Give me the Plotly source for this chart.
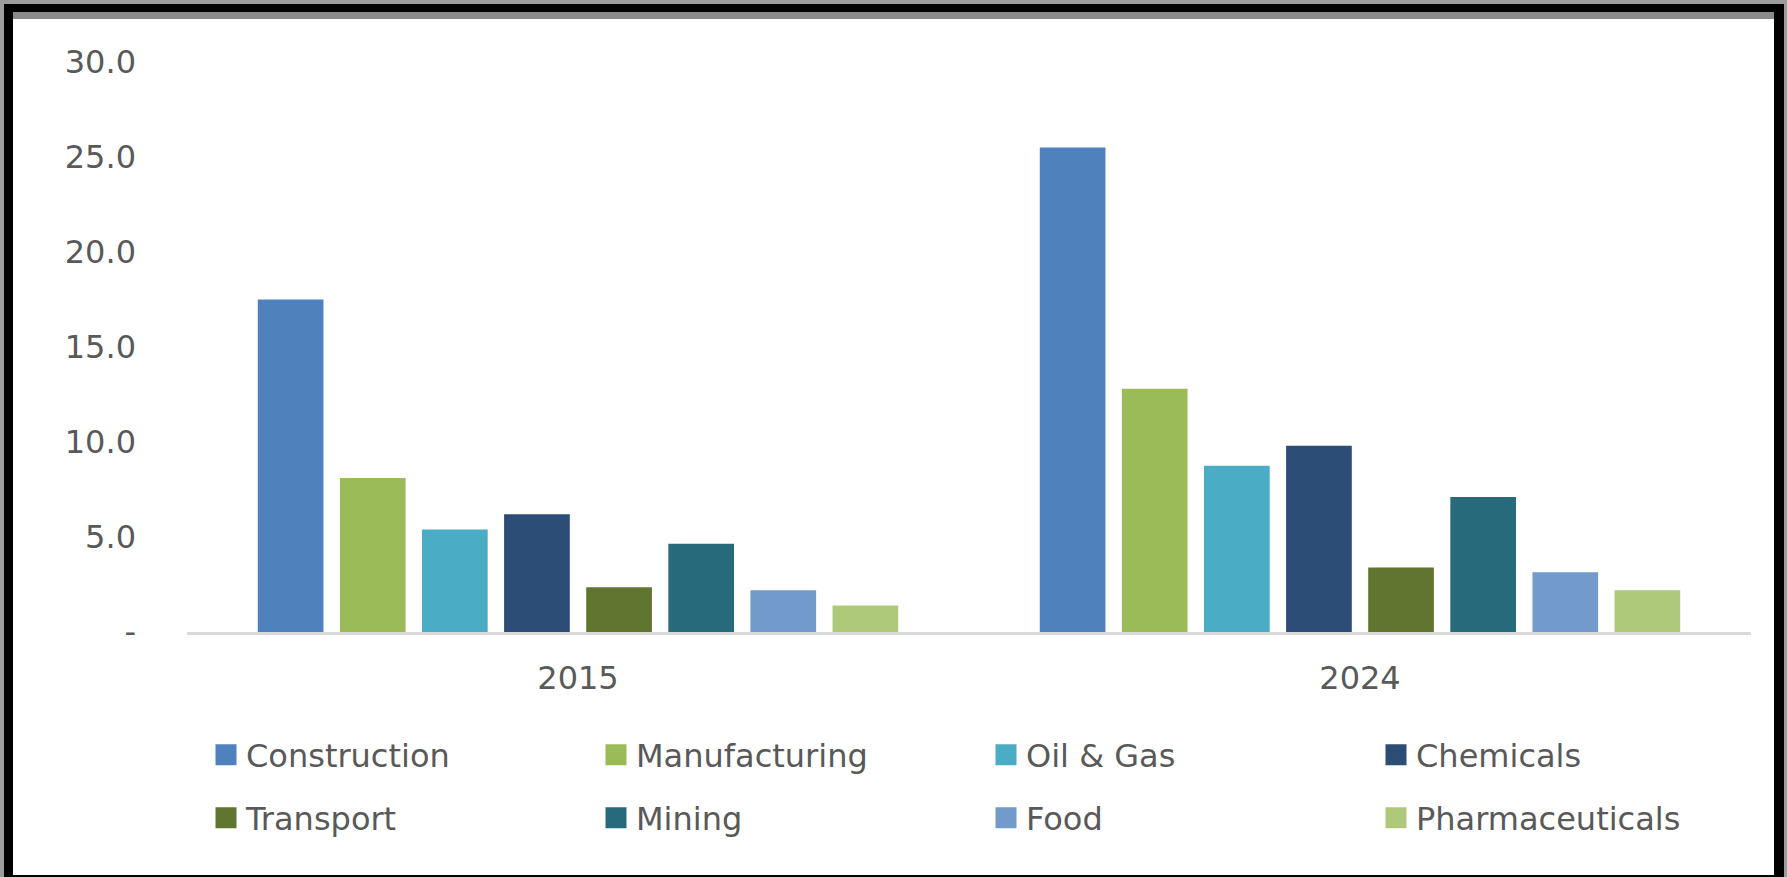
import plotly.graph_objects as go

# ---- data ----
years = ["2015", "2024"]
sectors = ["Construction", "Manufacturing", "Oil & Gas", "Chemicals",
           "Transport", "Mining", "Food", "Pharmaceuticals"]
construction = [17.5, 25.5]
manufacturing = [8.1, 12.8]
oil_gas = [5.4, 8.75]
chemicals = [6.2, 9.8]
transport = [2.35, 3.4]
mining = [4.65, 7.1]
food = [2.2, 3.15]
pharmaceuticals = [1.4, 2.2]
series_values = [construction, manufacturing, oil_gas, chemicals,
                 transport, mining, food, pharmaceuticals]
colors = ["#4F81BD", "#9BBB59", "#4BACC6", "#2C4D75",
          "#5F7530", "#276A7C", "#729ACA", "#AFC97A"]
y_tickvals = [0, 5, 10, 15, 20, 25, 30]
y_ticktext = ["-", "5.0", "10.0", "15.0", "20.0", "25.0", "30.0"]

W, H = 1787, 877
ML, MR, MT, MB = 187, 36, 62, 245
PW, PH = W - ML - MR, H - MT - MB
FONT = "DejaVu Sans"
TXT = "#595959"
FS = 32


def px_x(p):
    return (p - ML) / PW


def px_y(p):
    return (H - MB - p) / PH


fig = go.Figure()
for name, vals, col in zip(sectors, series_values, colors):
    fig.add_trace(go.Bar(x=years, y=vals, name=name, marker_color=col,
                         marker_line_width=0, showlegend=False))

# legend proxies (two rows via two legends)
for i, (name, col) in enumerate(zip(sectors, colors)):
    fig.add_trace(go.Scatter(
        x=[None], y=[None], mode="markers", name=name,
        marker=dict(symbol="square", size=16, color=col,
                    line=dict(color=col, width=5)),
        legend="legend" if i < 4 else "legend2", showlegend=True))

shapes = [
    dict(type="rect", xref="paper", yref="paper", x0=px_x(0), x1=px_x(W),
         y0=px_y(0), y1=px_y(H), fillcolor="#9c9c9c", line_width=0, layer="below"),
    dict(type="rect", xref="paper", yref="paper", x0=px_x(4), x1=px_x(1784),
         y0=px_y(4), y1=px_y(H + 5), fillcolor="#000000", line_width=0, layer="below"),
    dict(type="rect", xref="paper", yref="paper", x0=px_x(13), x1=px_x(1774),
         y0=px_y(12), y1=px_y(19), fillcolor="#8a8a8a", line_width=0, layer="below"),
    dict(type="rect", xref="paper", yref="paper", x0=px_x(13), x1=px_x(1774),
         y0=px_y(19), y1=px_y(875), fillcolor="#ffffff", line_width=0, layer="below"),
]

legend_common = dict(
    orientation="h", xanchor="right", yanchor="middle",
    x=px_x(1766), font=dict(family=FONT, size=FS, color=TXT),
    bgcolor="rgba(0,0,0,0)", borderwidth=0,
    entrywidth=345, entrywidthmode="pixels", itemclick=False,
)

fig.update_layout(
    width=W, height=H,
    margin=dict(l=ML, r=MR, t=MT, b=MB, pad=0),
    paper_bgcolor="#ffffff", plot_bgcolor="rgba(0,0,0,0)",
    barmode="group", bargap=0.16, bargroupgap=0.2,
    font=dict(family=FONT, size=FS, color=TXT),
    shapes=shapes,
    legend=dict(**legend_common, y=px_y(755)),
    legend2=dict(**legend_common, y=px_y(818)),
    xaxis=dict(type="category", showline=True, linecolor="#d9d9d9", linewidth=3,
               showgrid=False, zeroline=False, ticks="",
               tickfont=dict(family=FONT, size=FS, color=TXT),
               ticklabelstandoff=16),
    yaxis=dict(range=[0, 30], tickvals=y_tickvals, ticktext=y_ticktext,
               showgrid=False, zeroline=False, showline=False, ticks="",
               tickfont=dict(family=FONT, size=FS, color=TXT),
               ticklabelstandoff=50),
)

fig.write_html("out.html")
